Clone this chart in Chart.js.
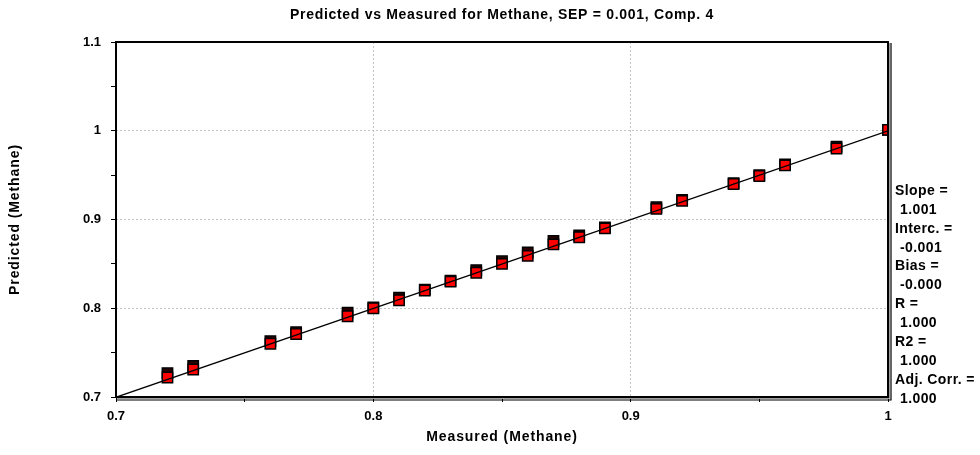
<!DOCTYPE html>
<html>
<head>
<meta charset="utf-8">
<script src="https://cdn.jsdelivr.net/npm/chart.js@4.4.0/dist/chart.umd.min.js"></script>
<style>
  html, body { margin: 0; padding: 0; background: #fff; }
  #wrap { width: 980px; height: 455px; position: relative; }
</style>
</head>
<body>
<div id="wrap"><canvas id="chart"></canvas></div>
<script>
// values
const measured = [0.72, 0.73, 0.76, 0.77, 0.79, 0.80, 0.81, 0.82, 0.83, 0.84, 0.85,
                  0.86, 0.87, 0.88, 0.89, 0.91, 0.92, 0.94, 0.95, 0.96, 0.98, 1.00];
// dark squares, partly hidden behind the red ones
const predictedDark = [0.727, 0.735, 0.763, 0.773, 0.795, 0.801, 0.812, 0.821, 0.831, 0.843, 0.853,
                       0.863, 0.876, 0.882, 0.891, 0.914, 0.922, 0.941, 0.950, 0.962, 0.982, 1.001];
const predictedRed = [0.722, 0.731, 0.760, 0.771, 0.791, 0.800, 0.809, 0.820, 0.830, 0.840, 0.850,
                      0.859, 0.872, 0.880, 0.890, 0.912, 0.921, 0.940, 0.949, 0.961, 0.980, 1.001];
// regression line end points
const fitX = [0.7, 1.0];
const fitY = [0.6997, 1.0];

const xTickLabels = ['0.7', '0.8', '0.9', '1'];
const yTickLabels = ['0.7', '0.8', '0.9', '1', '1.1'];

const titleText = 'Predicted vs Measured for Methane, SEP = 0.001, Comp. 4';
const xTitle = 'Measured (Methane)';
const yTitle = 'Predicted (Methane)';
const statLines = ['Slope =', '1.001', 'Interc. =', '-0.001', 'Bias =', '-0.000',
                   'R =', '1.000', 'R2 =', '1.000', 'Adj. Corr. =', '1.000'];

const FONT = "'Liberation Sans', Arial, sans-serif";
const LABEL_FONT = 'bold 14px ' + FONT;

function pts(xs, ys) {
  return xs.map((x, i) => ({ x: x, y: ys[i] }));
}

function isMajor(v) {
  return Math.abs(v * 10 - Math.round(v * 10)) < 1e-6;
}

function labelFor(v, labels) {
  if (!isMajor(v)) return '';
  const hit = labels.find(l => Math.abs(parseFloat(l) - v) < 1e-6);
  return hit || '';
}

function gridColor(ctx, min, max) {
  const v = ctx.tick ? ctx.tick.value : null;
  if (v === null || !isMajor(v)) return 'rgba(0,0,0,0)';
  if (Math.abs(v - min) < 1e-6 || Math.abs(v - max) < 1e-6) return 'rgba(0,0,0,0)';
  return '#c4c4c4';
}

// frame around the plot: heavy top/left, doubled right/bottom
const framePlugin = {
  id: 'frame',
  afterDatasetsDraw(chart) {
    const { ctx, chartArea: a } = chart;
    ctx.save();
    ctx.strokeStyle = '#000';
    ctx.lineWidth = 2;
    ctx.beginPath();
    ctx.moveTo(a.left, a.bottom);
    ctx.lineTo(a.left, a.top);
    ctx.lineTo(a.right, a.top);
    ctx.lineTo(a.right, a.bottom);
    ctx.closePath();
    ctx.stroke();
    ctx.strokeStyle = '#a0a0a0';
    ctx.lineWidth = 1;
    ctx.beginPath();
    ctx.moveTo(a.right + 1.5, a.top + 1);
    ctx.lineTo(a.right + 1.5, a.bottom + 1.5);
    ctx.lineTo(a.left + 1, a.bottom + 1.5);
    ctx.stroke();
    ctx.strokeStyle = '#000';
    ctx.lineWidth = 1.2;
    ctx.beginPath();
    ctx.moveTo(a.right + 3, a.top + 1);
    ctx.lineTo(a.right + 3, a.bottom + 3);
    ctx.lineTo(a.left, a.bottom + 3);
    ctx.stroke();
    ctx.restore();
  }
};

// chart title, axis titles and regression statistics
const textPlugin = {
  id: 'texts',
  afterDraw(chart) {
    const { ctx, chartArea: a } = chart;
    const cx = (a.left + a.right) / 2;
    ctx.save();
    ctx.fillStyle = '#000';
    ctx.font = LABEL_FONT;
    ctx.textBaseline = 'middle';

    ctx.letterSpacing = '0.7px';
    ctx.textAlign = 'center';
    ctx.fillText(titleText, cx, 15);
    ctx.letterSpacing = '0.9px';
    ctx.fillText(xTitle, cx, 437);

    ctx.save();
    ctx.translate(15, (a.top + a.bottom) / 2);
    ctx.rotate(-Math.PI / 2);
    ctx.fillText(yTitle, 0, 0);
    ctx.restore();

    ctx.letterSpacing = '0.4px';
    ctx.textAlign = 'left';
    statLines.forEach((t, i) => {
      const x = a.right + 7 + (i % 2 ? 5 : 0);
      ctx.fillText(t, x, 191 + i * 18.9);
    });
    ctx.restore();
  }
};

new Chart(document.getElementById('chart'), {
  type: 'scatter',
  data: {
    datasets: [
      {
        label: 'fit',
        data: pts(fitX, fitY),
        showLine: true,
        borderColor: '#000',
        borderWidth: 1.3,
        pointRadius: 0,
        order: 0
      },
      {
        label: 'red',
        data: pts(measured, predictedRed),
        pointStyle: 'rect',
        pointRadius: 7.3,
        backgroundColor: '#ff0000',
        borderColor: '#000',
        borderWidth: 1.5,
        order: 1
      },
      {
        label: 'dark',
        data: pts(measured, predictedDark),
        pointStyle: 'rect',
        pointRadius: 7.3,
        backgroundColor: '#2a0000',
        borderColor: '#000',
        borderWidth: 1.5,
        order: 2
      }
    ]
  },
  options: {
    responsive: true,
    maintainAspectRatio: false,
    animation: false,
    layout: { padding: { top: 42, right: 92, bottom: 0, left: 0 } },
    plugins: {
      legend: { display: false },
      tooltip: { enabled: false },
      title: { display: false }
    },
    scales: {
      x: {
        type: 'linear',
        min: 0.7,
        max: 1.0,
        afterFit(scale) { scale.height = 58; },
        ticks: {
          stepSize: 0.05,
          autoSkip: false,
          maxRotation: 0,
          padding: 7,
          color: '#000',
          font: { family: FONT, size: 13, weight: 'bold' },
          callback: v => labelFor(v, xTickLabels)
        },
        grid: {
          color: ctx => gridColor(ctx, 0.7, 1.0),
          tickColor: '#000',
          tickLength: 5,
          tickWidth: 1
        },
        border: { display: false, dash: [2, 2] },
        title: { display: false }
      },
      y: {
        type: 'linear',
        min: 0.7,
        max: 1.1,
        afterFit(scale) { scale.width = 116; },
        ticks: {
          stepSize: 0.05,
          autoSkip: false,
          padding: 10,
          color: '#000',
          font: { family: FONT, size: 13, weight: 'bold' },
          callback: v => labelFor(v, yTickLabels)
        },
        grid: {
          color: ctx => gridColor(ctx, 0.7, 1.1),
          tickColor: '#000',
          tickLength: 5,
          tickWidth: 1
        },
        border: { display: false, dash: [2, 2] },
        title: { display: false }
      }
    }
  },
  plugins: [framePlugin, textPlugin]
});
</script>
</body>
</html>
